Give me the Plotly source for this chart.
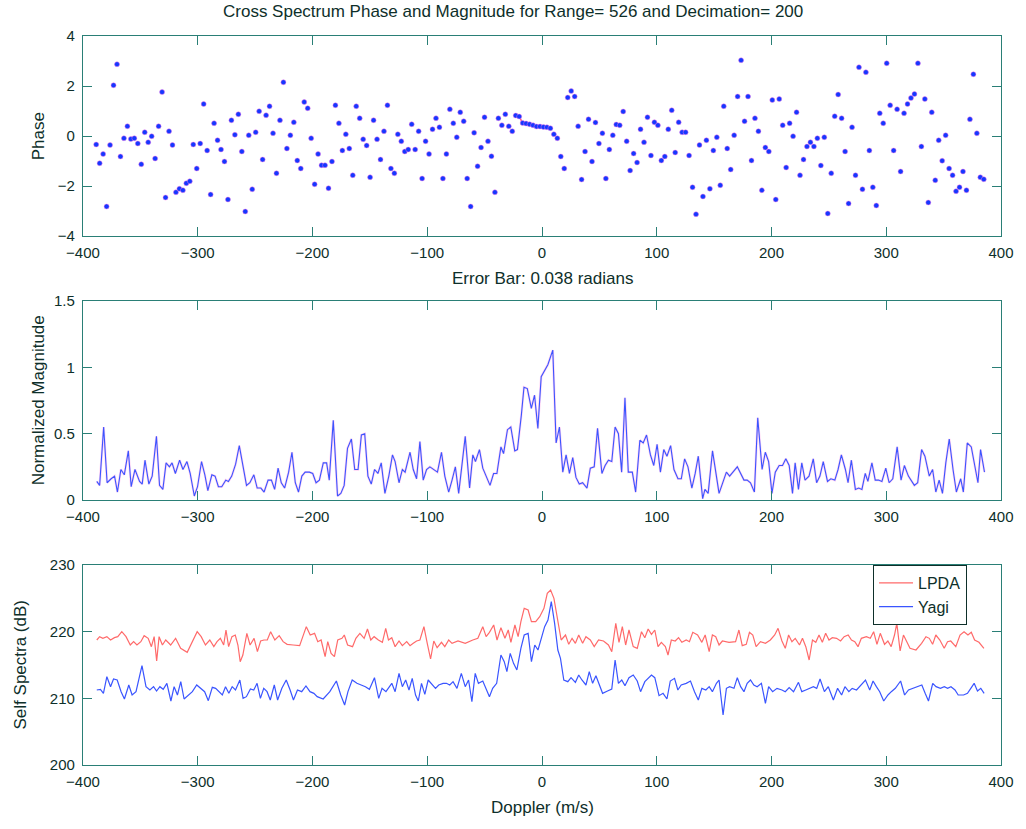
import numpy as np
import plotly.graph_objects as go

# ---- Cross-spectrum phase (radians), one value per Doppler bin ----
phase = [
    -0.34, -1.09, -0.72, -2.82, -0.36, 2.03, 2.87, -0.82, -0.09, 0.39, -0.12, -0.09, -0.30, -1.13, 0.15,
    -0.25, -0.01, -0.90, 0.39, 1.76, -2.46, 0.19, -0.36, -2.25, -2.11, -2.17, -1.89, -1.81, -0.34, -1.30,
    -0.30, 1.28, -0.58, -2.34, 0.51, -0.17, -0.54, -1.02, -2.54, 0.63, 0.05, 0.87, -0.62, -3.02, 0.03,
    -2.13, 0.15, 0.99, -0.94, 0.83, 1.19, 0.11, -1.49, 0.63, 2.15, -0.50, 0.03, 0.55, -0.98, -1.30,
    1.36, 1.11, -0.09, -1.93, -0.72, -1.17, -1.17, -2.09, -1.02, 1.23, 0.51, -0.58, 0.07, -0.50, -1.57,
    1.19, 0.71, -0.13, -0.38, -1.65, 0.63, -0.13, -0.94, 0.19, 1.23, -1.30, -1.49, 0.07, -0.21, -0.62,
    -0.54, 0.47, -0.54, 0.19, -1.70, -0.21, -0.72, 0.27, 0.71, 0.35, -1.70, -0.72, 1.07, 0.51, -0.05,
    0.95, 0.59, -1.70, -2.82, 0.13, -1.21, -0.46, 0.75, -0.21, -0.81, -2.25, 0.71, 0.43, 0.87, 0.39,
    0.19, 0.82, 0.78, 0.52, 0.50, 0.47, 0.43, 0.38, 0.38, 0.36, 0.35, 0.31, 0.07, -0.09, -0.82,
    -1.30, 1.54, 1.80, 1.58, 0.39, -1.74, -0.62, 0.67, -1.02, 0.54, -0.30, 0.11, -1.70, -0.54, 0.03,
    0.46, 0.43, 0.98, -0.21, -1.38, -0.70, -1.06, 0.27, -0.25, 0.75, -0.78, 0.55, 0.43, -0.98, -0.82,
    0.27, 1.03, -0.66, 0.55, 0.15, 0.15, -0.78, -2.05, -3.13, -0.36, -2.42, -0.17, -2.11, -0.58, -0.05,
    -1.97, 1.19, -0.50, -1.34, 0.03, 1.58, 3.03, 0.59, 1.58, -0.98, 0.71, 0.19, -2.17, -0.46, -0.62,
    1.44, -2.54, 1.48, 0.43, -1.26, 0.51, -0.01, 0.95, -1.57, -0.94, -0.42, -0.25, -0.42, -0.09, -1.18,
    -0.05, -3.10, -1.49, 0.79, 1.66, 0.71, -0.62, -2.70, 0.35, -1.57, 2.75, -2.13, 2.55, -0.58, -2.05,
    -2.78, 0.91, 0.51, 2.91, 1.23, -0.58, 1.07, -1.42, 0.91, 1.28, 1.52, 1.68, 2.91, -0.42, 1.48,
    -2.66, 0.95, -1.77, -0.17, -0.99, 0.03, -1.30, -1.57, -2.21, -2.05, -1.42, -2.17, 0.67, 2.47, 0.11,
    -1.65, -1.73,
]
# Doppler bins (m/s), uniformly spaced
doppler = np.linspace(-388.5, 385.0, len(phase))
# bins with coherent signal, shown with the error-bar trace
coherent = slice(121, 132)

# ---- Normalized cross-spectrum magnitude: (Doppler, magnitude) ----
magnitude = [
    (-388, 0.14), (-385.5, 0.11), (-382, 0.55), (-379, 0.13), (-375.5, 0.16), (-372.5, 0.18), (-370, 0.06),
    (-367, 0.23), (-364, 0.19), (-360.5, 0.37), (-358, 0.10), (-354.7, 0.23), (-350.7, 0.14), (-348.4, 0.12),
    (-346, 0.30), (-342.6, 0.12), (-339.7, 0.18), (-336, 0.48), (-333.3, 0.11), (-330.4, 0.08), (-327.6, 0.28),
    (-324.7, 0.25), (-322.4, 0.28), (-319.5, 0.20), (-315.8, 0.30), (-312.9, 0.23), (-309.4, 0.29),
    (-306.6, 0.20), (-303, 0.03), (-300.2, 0.10), (-296.7, 0.29), (-293.8, 0.19), (-291.2, 0.07),
    (-287.7, 0.19), (-284.9, 0.18), (-282, 0.10), (-279.1, 0.10), (-275.6, 0.15), (-273.3, 0.14),
    (-270.4, 0.18), (-267, 0.27), (-263.8, 0.41), (-257.5, 0.11), (-254.6, 0.13), (-251.1, 0.19),
    (-248.2, 0.09), (-245, 0.09), (-242.2, 0.06), (-238.7, 0.15), (-235.8, 0.15), (-233, 0.08), (-230, 0.24),
    (-227.2, 0.13), (-224.3, 0.09), (-220.8, 0.21), (-217.9, 0.36), (-215, 0.13), (-212.2, 0.06),
    (-209.3, 0.18), (-206.4, 0.21), (-202.7, 0.21), (-199.8, 0.20), (-196.9, 0.13), (-194, 0.15),
    (-190.6, 0.28), (-187.7, 0.28), (-185.4, 0.15), (-181.9, 0.60), (-178.2, 0.03), (-175.3, 0.05),
    (-172.4, 0.11), (-169.5, 0.39), (-166.1, 0.46), (-163.2, 0.23), (-160.3, 0.23), (-157.4, 0.49),
    (-154.5, 0.50), (-151.7, 0.18), (-148.8, 0.12), (-145.9, 0.23), (-143, 0.20), (-140.1, 0.28),
    (-136.9, 0.05), (-133.5, 0.18), (-130.3, 0.34), (-128, 0.29), (-124.6, 0.13), (-121.7, 0.23),
    (-119.3, 0.21), (-115, 0.36), (-112.2, 0.23), (-109.3, 0.16), (-106.4, 0.44), (-103.5, 0.15),
    (-100.6, 0.23), (-97.7, 0.25), (-91.1, 0.21), (-87.6, 0.36), (-84.7, 0.18), (-81.3, 0.06), (-78.4, 0.15),
    (-75.5, 0.25), (-72.6, 0.05), (-69.8, 0.26), (-66.9, 0.48), (-63.1, 0.09), (-60.3, 0.34), (-58, 0.29),
    (-54.5, 0.38), (-51.6, 0.24), (-48.8, 0.18), (-45.3, 0.11), (-42.2, 0.20), (-39.3, 0.20), (-35.8, 0.40),
    (-33.5, 0.35), (-30.1, 0.53), (-27.2, 0.55), (-23.7, 0.37), (-21.4, 0.38), (-18, 0.64), (-15.7, 0.85),
    (-12.8, 0.84), (-9.3, 0.69), (-6.5, 0.79), (-3.6, 0.54), (-0.7, 0.93), (2.2, 0.97), (5.1, 1.02),
    (9.4, 1.13), (12.3, 0.43), (15.2, 0.55), (18.1, 0.21), (21, 0.34), (23.9, 0.20), (26.8, 0.32),
    (29.6, 0.17), (32.5, 0.12), (35.4, 0.13), (39.2, 0.09), (42.1, 0.24), (45.5, 0.25), (48.4, 0.54),
    (52.2, 0.20), (55, 0.26), (57.9, 0.30), (60.8, 0.29), (63.7, 0.55), (66.6, 0.50), (69.4, 0.21),
    (72.3, 0.77), (75.2, 0.21), (78.7, 0.21), (81.6, 0.06), (85.3, 0.45), (88.2, 0.43), (91.1, 0.49),
    (94.5, 0.34), (97.4, 0.26), (100.3, 0.42), (103.2, 0.21), (106.1, 0.38), (108.9, 0.33), (112.1, 0.41),
    (115, 0.23), (118.5, 0.16), (121.4, 0.16), (124.3, 0.31), (127.2, 0.25), (130.6, 0.09), (133.5, 0.20),
    (136.2, 0.33), (140, 0.01), (142, 0.08), (144.8, 0.05), (148.6, 0.37), (154.3, 0.05), (160.7, 0.21),
    (163.5, 0.18), (170.2, 0.25), (176, 0.15), (178.8, 0.15), (181.7, 0.13), (185.1, 0.06), (188, 0.62),
    (191.8, 0.23), (194.6, 0.36), (197.5, 0.29), (200.4, 0.05), (203.3, 0.21), (206.7, 0.26), (209.6, 0.26),
    (212.5, 0.31), (215.4, 0.26), (218.3, 0.05), (220.6, 0.28), (223.5, 0.08), (226.4, 0.28), (229.2, 0.15),
    (232.7, 0.18), (236.4, 0.31), (239.3, 0.13), (242.2, 0.18), (245.1, 0.29), (248.8, 0.14), (251.7, 0.16),
    (255.2, 0.15), (258, 0.23), (260.9, 0.34), (264.4, 0.23), (266.7, 0.13), (269.6, 0.30), (273.1, 0.08),
    (276, 0.09), (278.8, 0.08), (281.7, 0.20), (284, 0.14), (287.5, 0.28), (290.4, 0.15), (293.3, 0.15),
    (296.2, 0.14), (299.6, 0.24), (302.5, 0.13), (305.7, 0.16), (309.5, 0.40), (312.9, 0.15), (315.8, 0.26),
    (319.3, 0.18), (324.5, 0.11), (327.4, 0.13), (330.8, 0.38), (333.7, 0.33), (337.5, 0.18), (340.4, 0.23),
    (343.2, 0.06), (346.1, 0.15), (349, 0.05), (351.9, 0.28), (354.9, 0.46), (358.2, 0.23), (361.1, 0.06),
    (364.9, 0.16), (367.2, 0.06), (370.6, 0.43), (374.1, 0.40), (379.9, 0.13), (382.2, 0.38), (385.6, 0.21),
]

# ---- Self spectra (dB): (Doppler, level) ----
lpda = [
    (-388, 218.75), (-385.5, 219.25), (-382.7, 219), (-379.2, 219.25), (-376, 218.75), (-372.6, 219.1),
    (-369.7, 219.25), (-366.2, 220), (-362.5, 219.25), (-358.8, 218), (-355.9, 218.5), (-353, 218),
    (-349.6, 218.5), (-346.7, 219.4), (-343.2, 219), (-340.4, 217.75), (-338, 219.25), (-335.8, 215.6),
    (-333.7, 219.25), (-330.8, 218), (-327.9, 218.75), (-323.6, 218), (-319.3, 219), (-314.9, 217.5),
    (-309.2, 216.9), (-304, 218.75), (-300.5, 220), (-297, 219.25), (-293.3, 218), (-289.5, 218.75),
    (-286, 217.75), (-283.2, 218.5), (-280.3, 219), (-277.4, 218), (-275.4, 220.25), (-273.1, 217.75),
    (-270.2, 219.25), (-267.3, 219.5), (-265, 218), (-263, 215.5), (-260.7, 216.5), (-257.2, 219.75),
    (-254.4, 218), (-250.9, 219), (-248, 217), (-245.2, 218.6), (-242.3, 218.75), (-239.4, 218.75),
    (-236.5, 220), (-232.8, 218.75), (-229, 219.4), (-225.6, 218.5), (-222.1, 218.1), (-216.9, 218),
    (-211.2, 217.9), (-205.4, 220.75), (-202, 219.5), (-198.2, 219.75), (-195.4, 218.5), (-192.5, 218.75),
    (-189, 216.25), (-186.7, 218.5), (-183.8, 216.75), (-180.9, 216.25), (-178, 218.75), (-174.3, 219),
    (-172.3, 219.5), (-169.4, 218), (-165.1, 217.75), (-162.2, 219), (-158.7, 219.75), (-155, 219),
    (-152.1, 220.4), (-149.2, 218.75), (-146.3, 219.25), (-142.6, 218.75), (-139.1, 218.4), (-136.2, 220.5),
    (-133.8, 218.75), (-130.9, 219.1), (-128, 217.75), (-124.6, 218.6), (-121.7, 217.9), (-117.9, 218.5),
    (-115, 217.9), (-112.2, 218.25), (-109.3, 218.6), (-106.4, 218.75), (-102.9, 220.75), (-100, 218.25),
    (-97.1, 215.9), (-94.3, 218.6), (-91.4, 217.6), (-87.6, 218.4), (-84.7, 217.75), (-81.3, 218.75),
    (-78.4, 218.25), (-73.2, 218.6), (-66.9, 218.25), (-60.3, 218.75), (-55.9, 219), (-51.6, 220.75),
    (-48.7, 219.25), (-45.8, 219.9), (-42.1, 221), (-39.2, 218.75), (-35.8, 220.6), (-32.3, 219),
    (-29.4, 220.25), (-27.1, 218.4), (-23.6, 221), (-20.8, 219.25), (-18.4, 221.5), (-15.5, 223.5),
    (-12.1, 223.25), (-9.2, 221.5), (-5.5, 221.5), (-2, 222.25), (1.7, 223.5), (4.6, 225.75), (7.5, 226.25),
    (10.4, 225), (13.3, 222), (16.7, 218.75), (20.5, 219.5), (23.3, 218.1), (26.2, 219), (29.1, 218.25),
    (32, 219.5), (35.4, 218.25), (38.3, 219.25), (42.1, 218.75), (45.5, 217.75), (49.3, 218.75),
    (53.6, 218.6), (57.9, 218), (60.8, 217), (64.3, 221.25), (67.1, 218.4), (70, 220.75), (72.9, 218),
    (75.8, 220.25), (79.5, 217.75), (83, 217.5), (86.7, 220), (89.6, 219.1), (92.5, 220.4), (95.4, 219.6),
    (98.3, 220.25), (101.1, 217.75), (104, 218.4), (107.5, 217.75), (109.8, 216.5), (112.7, 218.75),
    (116.1, 218.6), (119, 219.1), (121.9, 218.4), (125.7, 218.75), (128.5, 218.5), (131.4, 219.9),
    (135.6, 219.5), (139.3, 218.4), (142.2, 219.5), (145.7, 217), (148.5, 219.5), (151.4, 219.25),
    (154.3, 218), (157.2, 218.6), (163, 218.4), (168.7, 218.5), (171.6, 220.25), (174.5, 217.9), (178, 218.1),
    (180.8, 219.9), (183.7, 219.5), (186.6, 217.75), (190.4, 218.5), (194.7, 218.25), (199, 218.75),
    (202.8, 219.5), (205.7, 220.5), (209.1, 218.6), (212, 217.5), (214.9, 219.5), (217.8, 218.5),
    (220.7, 219), (224.4, 218), (227, 219), (229.9, 217.75), (232.8, 215.75), (235.7, 218.75),
    (238.6, 218.4), (241.4, 219.5), (244.3, 218.4), (247.2, 219.75), (250.1, 218.75), (253, 219.1),
    (256.7, 219), (260.2, 218.6), (263.3, 219.25), (266.8, 219.5), (269.7, 218.75), (272.6, 218.5),
    (275.4, 217.75), (278.3, 219), (282.7, 219.25), (286.1, 219), (289, 220), (291.9, 218.1),
    (294.8, 219.75), (298.5, 218.1), (301.4, 218.6), (304.3, 217.75), (307.2, 219.5), (309.2, 221.25),
    (312.1, 217.1), (315, 219.5), (317.9, 218.4), (320.7, 217.5), (325.9, 217.25), (330.8, 218.25),
    (334.6, 219.25), (337.5, 219), (340.4, 218.1), (343.2, 219.5), (346.7, 218.75), (350.5, 217.5),
    (353.4, 218.5), (356.2, 218.6), (360.6, 217.75), (364.3, 219.5), (367.8, 220), (371.2, 219.5),
    (374.1, 219.9), (377, 218.75), (380.8, 218.4), (385.1, 217.5),
]

yagi = [
    (-388, 211.25), (-384.8, 211.35), (-382.2, 210.75), (-379.2, 213.25), (-376, 211.75), (-373.4, 212.9),
    (-370.2, 212.75), (-366.8, 211), (-363.9, 209.9), (-360.1, 212), (-357.2, 210.5), (-353.8, 211),
    (-348.6, 214.9), (-345.1, 211.75), (-341.7, 211.25), (-338.5, 211.75), (-335.9, 211.1), (-333, 211.75),
    (-330.1, 211.35), (-326.9, 212.25), (-323.4, 209.6), (-320.6, 211.75), (-317.7, 210.5), (-314.8, 212.5),
    (-311.9, 209.9), (-308.4, 210.5), (-304.7, 211), (-300.9, 212), (-297.4, 211.5), (-294, 211),
    (-290.8, 209.65), (-287.3, 211.65), (-284.4, 211.5), (-281.5, 211), (-278.6, 210.5), (-275.8, 211.75),
    (-272.9, 210.75), (-270, 211.75), (-267.1, 211.25), (-263.3, 212.75), (-260.5, 210), (-257.6, 210.25),
    (-254.1, 211.4), (-251.2, 211.25), (-248.3, 212.25), (-245.4, 210), (-242.5, 211.5), (-239.6, 211),
    (-236.8, 209.75), (-233.3, 212), (-230.4, 209.75), (-226.7, 211.5), (-222.9, 212.75), (-219.5, 211.25),
    (-216.6, 209.75), (-213.1, 211.25), (-209.4, 211), (-205.7, 211.85), (-202.2, 211), (-198.8, 210.75),
    (-195.9, 210.25), (-190.7, 209.9), (-184.9, 211), (-179.2, 212.6), (-175.4, 210.5), (-172, 209),
    (-169.1, 211), (-165.4, 212.75), (-161.3, 212.25), (-157.6, 212), (-153.9, 211.75), (-150.4, 211.35),
    (-146, 213.1), (-142.3, 210), (-139.4, 211.5), (-136, 211), (-133.8, 211.5), (-130.9, 212.25),
    (-128, 211), (-124.6, 213.75), (-121.7, 211.75), (-118.8, 212.75), (-115.9, 211.25), (-113.1, 213),
    (-110.2, 210.5), (-107.8, 209.6), (-105, 212.25), (-102.1, 210.6), (-99.2, 212.75), (-96.3, 212.25),
    (-92.8, 211.5), (-90, 212), (-86.2, 212.25), (-83.3, 212.25), (-80.4, 212), (-77.5, 212.5),
    (-74.1, 211.5), (-70.3, 213.75), (-66.9, 211.75), (-64, 212.75), (-61.1, 209.5), (-58.2, 213.75),
    (-55.4, 212.25), (-51.6, 212.6), (-48.7, 211.5), (-45.8, 210.25), (-43, 211.5), (-39.5, 212.25),
    (-35.8, 216.5), (-32.9, 215.5), (-30.6, 214), (-27.7, 216.75), (-24.8, 215.25), (-21.9, 214.25),
    (-18.4, 217.5), (-15.5, 219.5), (-12.1, 219.75), (-9.2, 215.5), (-6.3, 218), (-3.5, 217.25),
    (-0.6, 219), (2.3, 220.75), (5.2, 221.75), (8.1, 224.5), (11, 221.25), (13.8, 217.25), (16.1, 216),
    (19, 212.75), (22.5, 212.5), (25.3, 213.1), (29.1, 212.4), (32, 213.5), (34.8, 212.75), (38.3, 212),
    (41.2, 214), (44.1, 212.25), (47, 213.4), (49.9, 212), (52.8, 210.75), (57.1, 211.1), (60.8, 211.4),
    (63.7, 215.75), (66.6, 212.25), (69.5, 212.75), (72.3, 211.9), (75.8, 213.1), (79.5, 213.5),
    (83, 212.6), (85.9, 211), (89.6, 212.5), (92.5, 213), (95.4, 213.5), (98.3, 213.1), (102, 210.4),
    (105.5, 210.75), (108.9, 209.9), (111.8, 212.6), (115.5, 213), (118.4, 211.25), (121.3, 212),
    (125.7, 212.25), (129.4, 212.6), (132.9, 211), (136.2, 209.75), (139.3, 211.5), (142.8, 211.25),
    (145.7, 211.75), (148.5, 211), (152, 212.25), (154.3, 212.75), (157.8, 207.5), (160.7, 211.5),
    (163.5, 211.75), (167.3, 211.5), (170.2, 213.1), (173.1, 211.75), (176, 211), (178.8, 212.25),
    (181.7, 212.75), (184.6, 212), (187.5, 211.75), (191.2, 212.25), (194.7, 209.25), (197.5, 211.75),
    (201, 211), (204.8, 211.5), (209.1, 211.25), (212, 211), (215.4, 211.6), (219.2, 211), (223.5, 212.4),
    (226.4, 211), (229.9, 211.25), (232.8, 211.5), (236.5, 211.75), (239.4, 211.5), (242.3, 212.9),
    (246.1, 211), (249.5, 211.75), (253.9, 209.75), (257.6, 211.5), (261.1, 210.5), (264, 211.75),
    (267.4, 211), (270.3, 211.5), (274.1, 211.25), (278.4, 212), (281.9, 212.75), (285.6, 211.25),
    (288.5, 212.6), (291.4, 211.75), (294.3, 211), (297.8, 209.6), (301.5, 210.5), (304.4, 211),
    (307.9, 211.5), (312.5, 212.6), (316, 210.5), (319.4, 211.25), (323.2, 211.5), (327.5, 211.75),
    (331, 212), (333.9, 210.75), (336.8, 209.6), (340.5, 212.25), (343.4, 211.75), (347.2, 211.5),
    (350.6, 211.75), (353.5, 211.5), (356.4, 211.75), (359.9, 211.25), (362.7, 210.5), (367.4, 210.5),
    (370.8, 210.75), (373.7, 211.5), (376.6, 212.25), (379.5, 211.1), (382.4, 211.5), (385.3, 210.75),
]

x_ticks = [-400, -300, -200, -100, 0, 100, 200, 300, 400]
phase_ticks = [-4, -2, 0, 2, 4]
mag_ticks = [0, 0.5, 1, 1.5]
spec_ticks = [200, 210, 220, 230]

title_text = "Cross Spectrum Phase and Magnitude for Range= 526 and Decimation= 200"
error_text = "Error Bar: 0.038 radians"

FONT = "Liberation Sans, Arial, Helvetica, sans-serif"
TEXT = "#0e2f2a"
AXIS = "#2a7f76"
BLUE = "#1438ff"
LINE_BLUE = "#3a55ff"
RED = "#ff6a6a"

mag_x, mag_y = zip(*magnitude)
lp_x, lp_y = zip(*lpda)
yg_x, yg_y = zip(*yagi)

fig = go.Figure()

# phase panel
fig.add_trace(go.Scatter(
    x=doppler[coherent], y=np.array(phase)[coherent], mode="lines",
    line=dict(color="#ff5a8a", width=1.5), xaxis="x", yaxis="y", showlegend=False))
fig.add_trace(go.Scatter(
    x=doppler, y=phase, mode="markers",
    marker=dict(symbol="circle", size=5, color=BLUE,
                line=dict(color="rgba(255,120,230,0.45)", width=1)),
    xaxis="x", yaxis="y", showlegend=False))

# magnitude panel
fig.add_trace(go.Scatter(
    x=mag_x, y=mag_y, mode="lines",
    line=dict(color="rgba(255,110,220,0.3)", width=2.4),
    xaxis="x2", yaxis="y2", showlegend=False, hoverinfo="skip"))
fig.add_trace(go.Scatter(
    x=mag_x, y=mag_y, mode="lines", line=dict(color=LINE_BLUE, width=1.1),
    xaxis="x2", yaxis="y2", showlegend=False))

# self spectra panel
fig.add_trace(go.Scatter(
    x=lp_x, y=lp_y, mode="lines", name="LPDA",
    line=dict(color=RED, width=1.2), xaxis="x3", yaxis="y3"))
fig.add_trace(go.Scatter(
    x=yg_x, y=yg_y, mode="lines", name="Yagi",
    line=dict(color=LINE_BLUE, width=1.2), xaxis="x3", yaxis="y3"))


def xax(anchor):
    return dict(range=[-400, 400], tickvals=x_ticks, ticks="inside", ticklen=9,
                tickcolor=AXIS, tickwidth=1.3, showline=True, linecolor=AXIS, linewidth=1.3,
                mirror="allticks", showgrid=False, zeroline=False, anchor=anchor,
                ticklabelstandoff=3,
                tickfont=dict(size=15, color=TEXT, family=FONT))


def yax(rng, ticks, domain, anchor):
    return dict(range=rng, tickvals=ticks, ticks="inside", ticklen=9,
                tickcolor=AXIS, tickwidth=1.3, showline=True, linecolor=AXIS, linewidth=1.3,
                mirror="allticks", showgrid=False, zeroline=False, domain=domain, anchor=anchor,
                ticklabelstandoff=4,
                tickfont=dict(size=15, color=TEXT, family=FONT))


H = 729.0
fig.update_layout(
    width=1026, height=829,
    margin=dict(l=83, r=18, t=36, b=64),
    paper_bgcolor="white", plot_bgcolor="white",
    font=dict(family=FONT, color=TEXT, size=15),
    xaxis=xax("y"),
    yaxis=yax([-4, 4], phase_ticks, [(765 - 236) / H, 1.0], "x"),
    xaxis2=xax("y2"),
    yaxis2=yax([0, 1.5], mag_ticks, [(765 - 500) / H, (765 - 301) / H], "x2"),
    xaxis3=xax("y3"),
    yaxis3=yax([200, 230], spec_ticks, [0, (765 - 565) / H], "x3"),
    legend=dict(x=0.963, xanchor="right", y=(765 - 565) / H, yanchor="top",
                bgcolor="white", bordercolor=TEXT, borderwidth=1,
                font=dict(size=16, color=TEXT, family=FONT),
                tracegroupgap=0, itemwidth=34),
    showlegend=True,
)

ann = [
    dict(text=title_text, x=(516 - 83) / 925, y=(765 - 12) / H, size=17),
    dict(text=error_text, x=(546 - 83) / 925, y=(765 - 278) / H, size=17),
    dict(text="Doppler (m/s)", x=(546 - 83) / 925, y=(765 - 808) / H, size=17),
    dict(text="Phase", x=(38 - 83) / 925, y=(765 - 136) / H, textangle=-90, size=17),
    dict(text="Normalized Magnitude", x=(38 - 83) / 925, y=(765 - 400) / H, textangle=-90, size=17),
    dict(text="Self Spectra (dB)", x=(20 - 83) / 925, y=(765 - 665) / H, textangle=-90, size=17),
]
for a in ann:
    size = a.pop("size")
    fig.add_annotation(xref="paper", yref="paper", showarrow=False,
                       xanchor="center", yanchor="middle",
                       font=dict(size=size, color=TEXT, family=FONT), **a)

fig.write_html("out.html")
